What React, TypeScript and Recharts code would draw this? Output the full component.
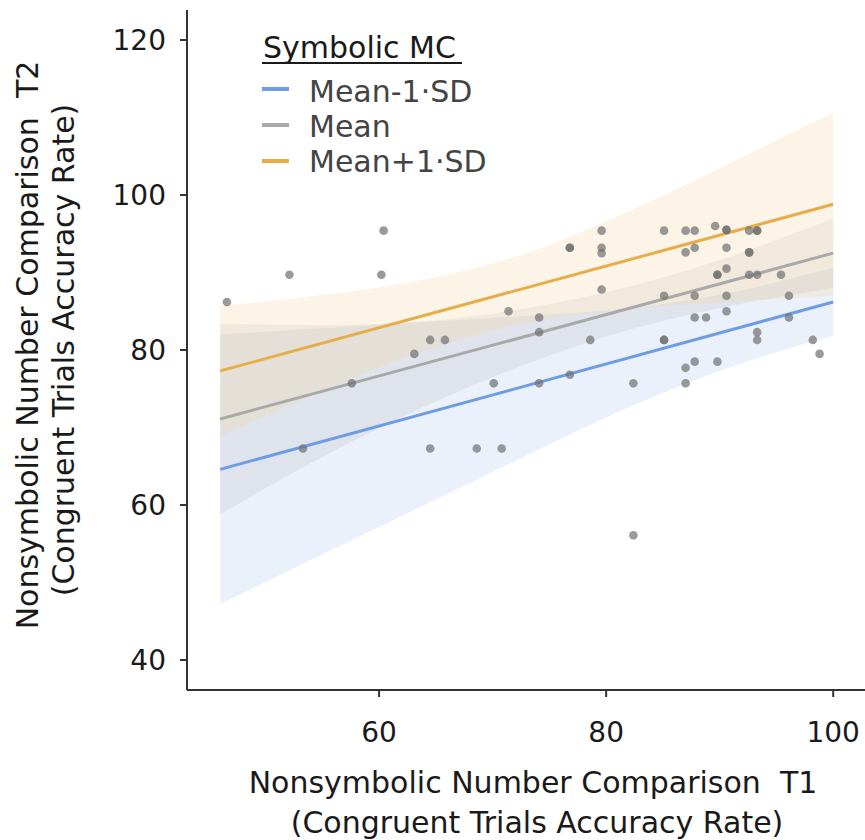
import React from 'react';
import { ComposedChart, XAxis, YAxis, Scatter, Line, Area, Legend, Label } from 'recharts';

const FONT = '"DejaVu Sans", "Liberation Sans", sans-serif';

// ticks
const xTicks = [60, 80, 100];
const yTicks = [40, 60, 80, 100, 120];

// scatter points (T1, T2)
const pointX = [
  46.6, 52.1, 60.4, 60.2, 53.3, 57.6, 63.1, 64.5, 65.8, 64.5, 68.6, 70.8, 70.1, 71.4, 74.1, 74.1, 74.1,
  76.8, 76.8, 76.8, 79.6, 79.6, 79.6, 79.6, 78.6, 82.4, 82.4, 85.1, 85.1, 85.1, 85.1, 87.0, 87.8, 89.6,
  90.6, 90.6, 92.6, 93.3, 93.3, 87.0, 87.8, 90.6, 92.6, 92.6, 90.6, 89.8, 89.8, 92.6, 93.3, 95.4, 87.8,
  90.6, 96.1, 87.8, 88.8, 90.6, 96.1, 93.3, 93.3, 98.2, 98.8, 87.8, 89.8, 87.0, 87.0,
];
const pointY = [
  86.2, 89.7, 95.4, 89.7, 67.3, 75.7, 79.5, 81.3, 81.3, 67.3, 67.3, 67.3, 75.7, 85.0, 84.2, 82.3, 75.7,
  93.2, 93.2, 76.8, 95.4, 93.2, 92.5, 87.8, 81.3, 75.7, 56.1, 95.4, 87.0, 81.3, 81.3, 95.4, 95.4, 96.0,
  95.5, 95.5, 95.4, 95.4, 95.4, 92.6, 93.2, 93.2, 92.6, 92.6, 90.5, 89.7, 89.7, 89.7, 89.7, 89.7, 87.0,
  87.0, 87.0, 84.2, 84.2, 85.0, 84.2, 82.3, 81.3, 81.3, 79.5, 78.5, 78.5, 77.7, 75.7,
];

// confidence bands sampled along T1
const bandX = [46, 55, 64, 73, 82, 91, 100];
const blueLo = [47.2, 53.6, 60.0, 66.4, 72.6, 77.8, 81.8];
const blueHi = [82.0, 82.8, 83.6, 84.4, 85.4, 87.4, 90.6];
const grayLo = [58.8, 66.2, 72.7, 78.2, 82.6, 85.7, 88.0];
const grayHi = [83.4, 83.2, 83.7, 85.4, 88.2, 92.1, 97.0];
const orangeLo = [68.9, 74.7, 79.9, 83.5, 85.3, 86.2, 87.0];
const orangeHi = [85.7, 87.1, 89.1, 92.5, 97.9, 104.2, 110.6];

// regression lines
const lineX = [46, 100];
const blueLine = [64.6, 86.2];
const grayLine = [71.1, 92.5];
const orangeLine = [77.3, 98.8];

const legendTitle = 'Symbolic MC';
const seriesNames = ['Mean-1·SD', 'Mean', 'Mean+1·SD'];
const seriesColors = ['#6e9de6', '#a9a9a9', '#e7ad4a'];
const bandFills = ['#b0c8f0', '#999999', '#f2d49b'];

const xLabelLines = ['Nonsymbolic Number Comparison  T1', '(Congruent Trials Accuracy Rate)'];
const yLabelLines = ['Nonsymbolic Number Comparison  T2', '(Congruent Trials Accuracy Rate)'];

const points = pointX.map((x, i) => ({ x, y: pointY[i] }));
const bands = bandX.map((x, i) => ({
  x,
  blue: [blueLo[i], blueHi[i]],
  gray: [grayLo[i], grayHi[i]],
  orange: [orangeLo[i], orangeHi[i]],
}));
const mkLine = (ys: number[]) => lineX.map((x, i) => ({ x, y: ys[i] }));
const lines = [mkLine(blueLine), mkLine(grayLine), mkLine(orangeLine)];

const pre = { whiteSpace: 'pre' as const };

const renderLegend = () => (
  <svg width={865} height={200} style={{ display: 'block' }}>
    <text x={263} y={58} fontSize={30} fontFamily={FONT} fill="#1a1a1a">
      {legendTitle}
    </text>
    <line x1={262} x2={462} y1={63} y2={63} stroke="#1a1a1a" strokeWidth={2} />
    {seriesNames.map((name, i) => (
      <g key={name}>
        <line x1={262} x2={289} y1={89 + i * 36} y2={89 + i * 36} stroke={seriesColors[i]} strokeWidth={4} />
        <text x={309} y={102 + i * 35} fontSize={30} fontFamily={FONT} fill="#444">
          {name}
        </text>
      </g>
    ))}
  </svg>
);

const renderXLabel = () => (
  <g>
    <text x={533} y={793} textAnchor="middle" fontSize={30} fontFamily={FONT} fill="#1a1a1a" style={pre} xmlSpace="preserve">
      {xLabelLines[0]}
    </text>
    <text x={537} y={833} textAnchor="middle" fontSize={30} fontFamily={FONT} fill="#1a1a1a">
      {xLabelLines[1]}
    </text>
  </g>
);

const renderYLabel = () => (
  <g>
    <text x={38} y={345} transform="rotate(-90, 38, 345)" textAnchor="middle" fontSize={30} fontFamily={FONT} fill="#1a1a1a" style={pre} xmlSpace="preserve">
      {yLabelLines[0]}
    </text>
    <text x={74} y={350} transform="rotate(-90, 74, 350)" textAnchor="middle" fontSize={30} fontFamily={FONT} fill="#1a1a1a">
      {yLabelLines[1]}
    </text>
  </g>
);

export default function App() {
  const tickStyle = { fontSize: 28, fill: '#1a1a1a', fontFamily: FONT };
  return (
    <div style={{ position: 'absolute', left: 0, top: 0, width: 865, height: 840, background: '#fff' }}>
      <ComposedChart width={865} height={840} margin={{ top: 10, right: 0, bottom: 90, left: 107 }}>
        <XAxis
          type="number"
          dataKey="x"
          domain={[43.08, 102.8]}
          ticks={xTicks}
          allowDataOverflow
          height={60}
          tickSize={7}
          tickMargin={25}
          tick={tickStyle}
          axisLine={{ stroke: '#333', strokeWidth: 2 }}
          tickLine={{ stroke: '#333', strokeWidth: 2 }}
        >
          <Label content={renderXLabel} />
        </XAxis>
        <YAxis
          type="number"
          domain={[36.13, 123.87]}
          ticks={yTicks}
          allowDataOverflow
          width={80}
          tickSize={7}
          tickMargin={14}
          tick={tickStyle}
          axisLine={{ stroke: '#333', strokeWidth: 2 }}
          tickLine={{ stroke: '#333', strokeWidth: 2 }}
        >
          <Label content={renderYLabel} />
        </YAxis>
        <Legend
          layout="horizontal"
          align="center"
          verticalAlign="middle"
          content={renderLegend}
          wrapperStyle={{ position: 'absolute', left: 0, top: 0, width: 865, height: 200, pointerEvents: 'none' }}
        />
        <Area data={bands} dataKey="blue" type="monotone" stroke="none" fill={bandFills[0]} fillOpacity={0.25} isAnimationActive={false} />
        <Area data={bands} dataKey="gray" type="monotone" stroke="none" fill={bandFills[1]} fillOpacity={0.15} isAnimationActive={false} />
        <Area data={bands} dataKey="orange" type="monotone" stroke="none" fill={bandFills[2]} fillOpacity={0.25} isAnimationActive={false} />
        {lines.map((d, i) => (
          <Line
            key={seriesNames[i]}
            data={d}
            dataKey="y"
            type="linear"
            stroke={seriesColors[i]}
            strokeWidth={3}
            dot={false}
            isAnimationActive={false}
          />
        ))}
        <Scatter data={points} dataKey="y" fill="#6f6f6f" fillOpacity={0.7} isAnimationActive={false}
          shape={(p: any) => <circle cx={p.cx} cy={p.cy} r={4.3} fill="#6f6f6f" fillOpacity={0.7} />} />
      </ComposedChart>
    </div>
  );
}
